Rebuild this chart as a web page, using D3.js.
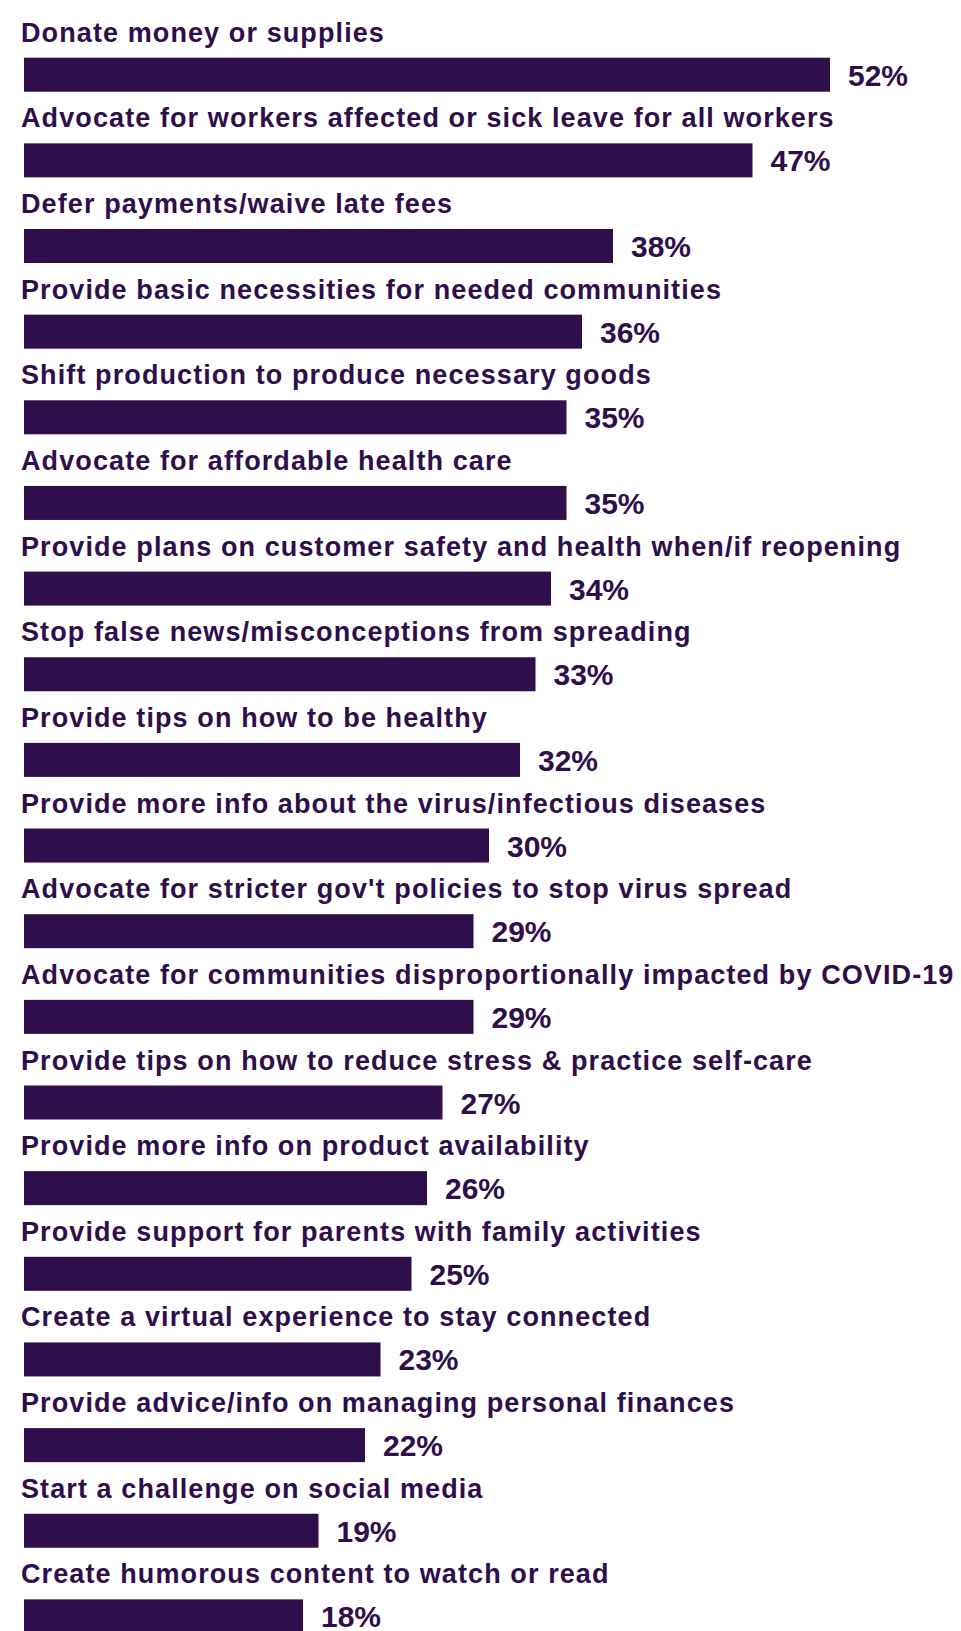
<!DOCTYPE html>
<html>
<head>
<meta charset="utf-8">
<script src="https://cdn.jsdelivr.net/npm/d3@7"></script>
<style>
  body { margin: 0; background: #fff; }
  svg { display: block; }
</style>
</head>
<body>
<div id="chart"></div>
<script>
// survey answers, top to bottom
var categories = [
  "Donate money or supplies",
  "Advocate for workers affected or sick leave for all workers",
  "Defer payments/waive late fees",
  "Provide basic necessities for needed communities",
  "Shift production to produce necessary goods",
  "Advocate for affordable health care",
  "Provide plans on customer safety and health when/if reopening",
  "Stop false news/misconceptions from spreading",
  "Provide tips on how to be healthy",
  "Provide more info about the virus/infectious diseases",
  "Advocate for stricter gov't policies to stop virus spread",
  "Advocate for communities disproportionally impacted by COVID-19",
  "Provide tips on how to reduce stress & practice self-care",
  "Provide more info on product availability",
  "Provide support for parents with family activities",
  "Create a virtual experience to stay connected",
  "Provide advice/info on managing personal finances",
  "Start a challenge on social media",
  "Create humorous content to watch or read"
];
var values = [52, 47, 38, 36, 35, 35, 34, 33, 32, 30, 29, 29, 27, 26, 25, 23, 22, 19, 18];

var width = 961, height = 1631;
var color = "#2e0e4b";
var barHeight = 34;
var firstBarY = 57.7, step = 85.65;

var rows = categories.map(function (c, i) { return { name: c, value: values[i] }; });

var svg = d3.select("#chart").append("svg")
  .attr("width", width)
  .attr("height", height);

var x = d3.scaleLinear()
  .domain([0, 52])
  .range([24, 830]);

var y = d3.scaleBand()
  .domain(categories)
  .range([firstBarY, firstBarY + categories.length * step]);

var row = svg.selectAll("g.row")
  .data(rows)
  .enter()
  .append("g")
  .attr("class", "row");

row.append("rect")
  .attr("x", x(0))
  .attr("y", function (d) { return y(d.name); })
  .attr("width", function (d) { return x(d.value) - x(0); })
  .attr("height", barHeight)
  .attr("fill", color);

row.append("text")
  .attr("class", "cat")
  .attr("x", 21)
  .attr("y", function (d) { return y(d.name) - 16; })
  .attr("font-family", "Liberation Sans, Arial, sans-serif")
  .attr("font-weight", "bold")
  .attr("font-size", 27)
  .attr("letter-spacing", 1.1)
  .attr("fill", color)
  .text(function (d) { return d.name; });

row.append("text")
  .attr("class", "val")
  .attr("x", function (d) { return x(d.value) + 18; })
  .attr("y", function (d) { return y(d.name) + barHeight / 2 + 11; })
  .attr("font-family", "Liberation Sans, Arial, sans-serif")
  .attr("font-weight", "bold")
  .attr("font-size", 30)
  .attr("fill", color)
  .text(function (d) { return d.value + "%"; });
</script>
</body>
</html>
